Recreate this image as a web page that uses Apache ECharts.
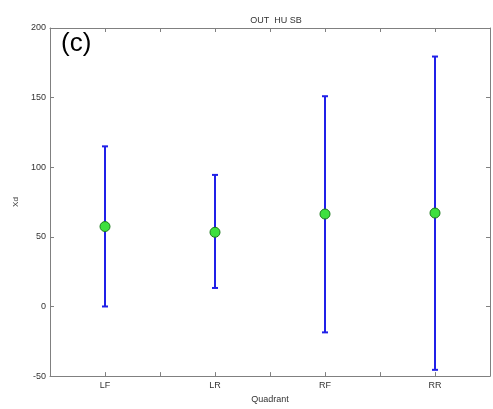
<!DOCTYPE html>
<html>
<head>
<meta charset="utf-8">
<script src="https://cdn.jsdelivr.net/npm/echarts@6/dist/echarts.min.js"></script>
<style>
html,body{margin:0;padding:0;background:#fff;}
#c{width:493px;height:409px;}
</style>
</head>
<body>
<div id="c"></div>
<script>
var categories = ['LF', 'LR', 'RF', 'RR'];
var means = [57.4, 53.3, 66.4, 67.1];
var upper = [115, 94.5, 151, 179.5];
var lower = [0, 13.3, -18.6, -45.5];
var yTicks = [-50, 0, 50, 100, 150, 200];

var barData = categories.map(function (c, i) { return [i + 1, lower[i], upper[i]]; });
var meanData = categories.map(function (c, i) { return [i + 1, means[i]]; });

var chart = echarts.init(document.getElementById('c'), null, {renderer: 'canvas'});
var axisCol = '#808080';
var txtCol = '#333';
var font = 'Liberation Sans, Arial, sans-serif';

function xLabel(v) {
  var k = Math.round(v);
  if (Math.abs(v - k) < 1e-6 && k >= 1 && k <= categories.length) return categories[k - 1];
  return '';
}

chart.setOption({
  animation: false,
  backgroundColor: '#fff',
  title: {
    text: 'OUT  HU SB', left: 271, top: 11, textAlign: 'center',
    textStyle: {fontSize: 9, fontWeight: 'normal', color: txtCol, fontFamily: font}
  },
  graphic: [{
    type: 'text', left: 61, top: 31,
    style: {text: '(c)', fontSize: 26, fill: '#000', fontFamily: font}
  }],
  grid: {left: 50, top: 28, right: 1, bottom: 31, containLabel: false},
  xAxis: [{
    type: 'value', min: 0.5, max: 4.5, interval: 0.5,
    name: 'Quadrant', nameLocation: 'middle', nameGap: 14,
    nameTextStyle: {fontSize: 9, color: txtCol, fontFamily: font},
    axisLine: {show: true, onZero: false, lineStyle: {color: axisCol, width: 1}},
    axisTick: {show: true, inside: true, length: 4, lineStyle: {color: axisCol}},
    axisLabel: {formatter: xLabel, fontSize: 9, color: txtCol, fontFamily: font, margin: 5, showMinLabel: true, showMaxLabel: true},
    splitLine: {show: false}
  }, {
    type: 'value', position: 'top', min: 0.5, max: 4.5, interval: 0.5,
    axisLine: {show: true, onZero: false, lineStyle: {color: axisCol, width: 1}},
    axisTick: {show: true, inside: true, length: 4, lineStyle: {color: axisCol}},
    axisLabel: {show: false}, splitLine: {show: false}
  }],
  yAxis: [{
    type: 'value', min: yTicks[0], max: yTicks[yTicks.length - 1], interval: 50,
    name: 'Xd', nameLocation: 'middle', nameGap: 30,
    nameTextStyle: {fontSize: 8, color: txtCol, fontFamily: font},
    axisLine: {show: true, onZero: false, lineStyle: {color: axisCol, width: 1}},
    axisTick: {show: true, inside: true, length: 4, lineStyle: {color: axisCol}},
    axisLabel: {fontSize: 9, color: txtCol, fontFamily: font, margin: 4},
    splitLine: {show: false}
  }, {
    type: 'value', position: 'right', min: yTicks[0], max: yTicks[yTicks.length - 1], interval: 50,
    axisLine: {show: true, onZero: false, lineStyle: {color: axisCol, width: 1}},
    axisTick: {show: true, inside: true, length: 4, lineStyle: {color: axisCol}},
    axisLabel: {show: false}, splitLine: {show: false}
  }],
  series: [{
    type: 'custom',
    xAxisIndex: 0, yAxisIndex: 0,
    data: barData,
    renderItem: function (params, api) {
      var x = api.value(0);
      var lo = api.coord([x, api.value(1)]);
      var hi = api.coord([x, api.value(2)]);
      var hw = 3;
      var st = {stroke: '#2020e8', lineWidth: 2};
      return {
        type: 'group',
        children: [
          {type: 'line', shape: {x1: lo[0], y1: lo[1], x2: hi[0], y2: hi[1]}, style: st},
          {type: 'line', shape: {x1: lo[0] - hw, y1: lo[1], x2: lo[0] + hw, y2: lo[1]}, style: st},
          {type: 'line', shape: {x1: hi[0] - hw, y1: hi[1], x2: hi[0] + hw, y2: hi[1]}, style: st}
        ]
      };
    },
    z: 2
  }, {
    type: 'scatter',
    xAxisIndex: 0, yAxisIndex: 0,
    data: meanData,
    symbol: 'circle', symbolSize: 10,
    itemStyle: {color: '#3ee03e', borderColor: '#1c7a1c', borderWidth: 1, opacity: 1},
    z: 3
  }]
});
</script>
</body>
</html>
